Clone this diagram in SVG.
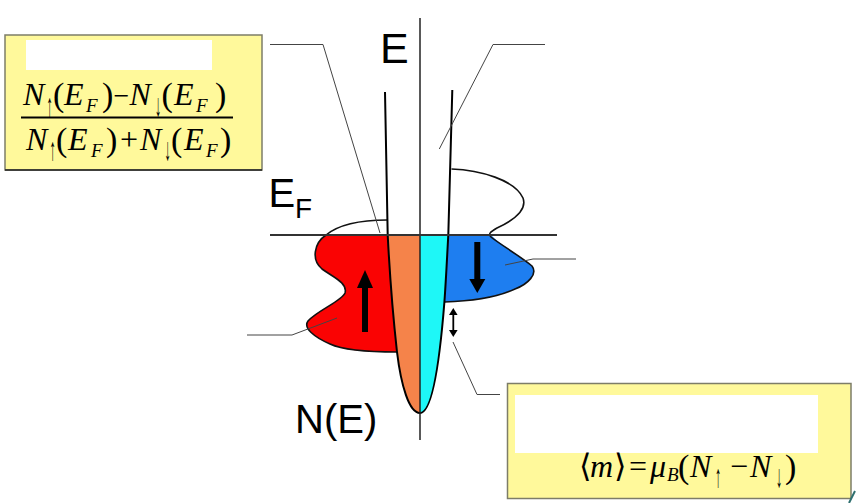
<svg xmlns="http://www.w3.org/2000/svg" width="856" height="503" viewBox="0 0 856 503">
<style>
.box{fill:#FFF99B;stroke:#7d7d68;stroke-width:1.5}
.blank{fill:#FFFFFF}
.m{font-family:"Liberation Serif","DejaVu Serif",serif;font-size:32px;fill:#000}
.i{font-style:italic}
.sub{font-size:19px;font-style:italic}
.ar{font-size:32px;font-style:normal}
.p{font-size:34px;font-style:normal}
.lbl{font-family:"Liberation Sans",Arial,sans-serif;fill:#000}
.lead{fill:none;stroke:#444;stroke-width:1}
.curve{fill:none;stroke:#000;stroke-width:2}
.outl{fill:none;stroke:#111;stroke-width:1.6}
</style>
<rect width="856" height="503" fill="#FFFFFF"/>

<g id="dos">
  <path id="orange" d="M387.7,235 C390,280 394,325 397,352 C401,385 409,413 420,413 L420,235 Z" fill="#F5834A"/>
  <path id="cyan" d="M448.3,235 C447,258 446,280 444.4,302 C441,345 434,413 420,413 L420,235 Z" fill="#1EF7F7"/>
  <path id="red-lobe" d="M326,235 C314,243 311,260 322,269 C333,277 348,283 345,293 C342,301 318,310 308,321 C303,328 314,337 330,344 C345,351 370,352 397,352 C394,325 390,280 387.7,235 Z" fill="#FA0303"/>
  <path id="blue-lobe" d="M491,235 C498,243 520,256 532,266 C538,274 528,284 515,289 C500,296 475,301 444.4,302 C446,280 447,258 448.3,235 Z" fill="#1E7EF0"/>
  <path class="outl" d="M387,220 C355,220 337,226 326,235 C314,243 311,260 322,269 C333,277 348,283 345,293 C342,301 318,310 308,321 C303,328 314,337 330,344 C345,351 370,352 397,352"/>
  <path class="outl" d="M451.5,169 C480,170 515,180 523,198 C528,212 510,222 497,228 C490,232 488,234 491,237 C498,243 520,256 532,266 C538,274 528,284 515,289 C500,296 475,301 444.4,302"/>
  <path class="curve" d="M385,92 L387.7,235 C390,280 394,325 397,352 C401,385 409,413 420,413"/>
  <path class="curve" d="M452.3,90 L448.3,235 C447,258 446,280 444.4,302 C441,345 434,413 420,413"/>
  <line x1="420" y1="18" x2="420" y2="440" stroke="#222" stroke-width="1.5"/>
  <line x1="270" y1="235" x2="557" y2="235" stroke="#333" stroke-width="2"/>
</g>

<g id="spin-up-arrow">
  <rect x="362" y="284" width="6" height="48" fill="#000"/>
  <polygon points="357,288 373,288 365,270" fill="#000"/>
</g>
<g id="spin-down-arrow">
  <rect x="474.3" y="242" width="6" height="40" fill="#000"/>
  <polygon points="469.3,279 485.3,279 477.3,293" fill="#000"/>
</g>
<g id="exchange-arrow">
  <line x1="453.3" y1="313" x2="453.3" y2="332" stroke="#000" stroke-width="1.8"/>
  <polygon points="449,315 457.6,315 453.3,308" fill="#000"/>
  <polygon points="449,330 457.6,330 453.3,337" fill="#000"/>
</g>

<g id="labels">
  <text class="lbl" x="380" y="63.3" font-size="43">E</text>
  <text class="lbl" x="268.5" y="206.7" font-size="40">E</text>
  <text class="lbl" x="295" y="218.3" font-size="28">F</text>
  <text class="lbl" x="295" y="433" font-size="40">N(E)</text>
</g>

<g id="connectors">
  <path class="lead" d="M270,44.5 H323 L380,233"/>
  <path class="lead" d="M545,44.5 H493 L439.3,149"/>
  <path class="lead" d="M576,259 H533 L505,265"/>
  <path class="lead" d="M247,335 H292 L337,318"/>
  <path class="lead" d="M453,342 L477,394.5 H500"/>
</g>

<g id="polarization-box">
  <rect class="box" x="5" y="35" width="257" height="135"/>
  <line x1="5" y1="170" x2="262" y2="170" stroke="#222" stroke-width="1.5"/>
  <rect class="blank" x="26" y="40" width="186" height="30"/>
  <line x1="21" y1="117.5" x2="233" y2="117.5" stroke="#000" stroke-width="2"/>
  <text class="m"><tspan class="i" x="23" y="105">N</tspan><tspan class="p" x="53" y="106">(</tspan><tspan class="i" x="64" y="105">E</tspan><tspan class="sub" x="86" y="112">F</tspan><tspan class="p" x="102" y="106">)</tspan><tspan x="113.5" y="105" font-size="28">−</tspan><tspan class="i" x="129.5" y="105">N</tspan><tspan class="p" x="161.5" y="106">(</tspan><tspan class="i" x="174" y="105">E</tspan><tspan class="sub" x="196" y="112">F</tspan><tspan class="p" x="215" y="106">)</tspan></text>
  <text class="m ar" transform="translate(46.5,115.5) scale(0.4,1)">↑</text>
  <text class="m ar" transform="translate(155,115.5) scale(0.4,1)">↓</text>
  <text class="m"><tspan class="i" x="26" y="150">N</tspan><tspan class="p" x="56" y="151" font-size="37">(</tspan><tspan class="i" x="68" y="150">E</tspan><tspan class="sub" x="91" y="157">F</tspan><tspan class="p" x="106" y="151" font-size="37">)</tspan><tspan x="120" y="150">+</tspan><tspan class="i" x="140" y="150">N</tspan><tspan class="p" x="171" y="151" font-size="37">(</tspan><tspan class="i" x="184" y="150">E</tspan><tspan class="sub" x="206" y="157">F</tspan><tspan class="p" x="220" y="151" font-size="37">)</tspan></text>
  <text class="m ar" transform="translate(49.5,159.5) scale(0.4,1)">↑</text>
  <text class="m ar" transform="translate(164.5,159.5) scale(0.4,1)">↓</text>
</g>

<g id="moment-box">
  <rect class="box" x="507.5" y="383.5" width="343.5" height="115"/>
  <rect class="blank" x="515" y="395" width="303" height="58"/>
  <text class="m"><tspan x="579" y="477.3">⟨</tspan><tspan class="i" x="590" y="477.3">m</tspan><tspan x="614" y="477.3">⟩</tspan><tspan x="629" y="477.3">=</tspan><tspan class="i" x="650" y="477.3">μ</tspan><tspan class="sub" x="667" y="481">B</tspan><tspan class="p" x="678" y="478" font-size="38">(</tspan><tspan class="i" x="690" y="477.3">N</tspan><tspan x="730" y="477.3">−</tspan><tspan class="i" x="750" y="477.3">N</tspan><tspan class="p" x="785" y="478" font-size="38">)</tspan></text>
  <text class="m ar" transform="translate(715,487) scale(0.4,1)">↑</text>
  <text class="m ar" transform="translate(776,487) scale(0.4,1)">↓</text>
</g>

<line x1="849" y1="503" x2="855" y2="491" stroke="#2f6f6f" stroke-width="2"/>
</svg>
